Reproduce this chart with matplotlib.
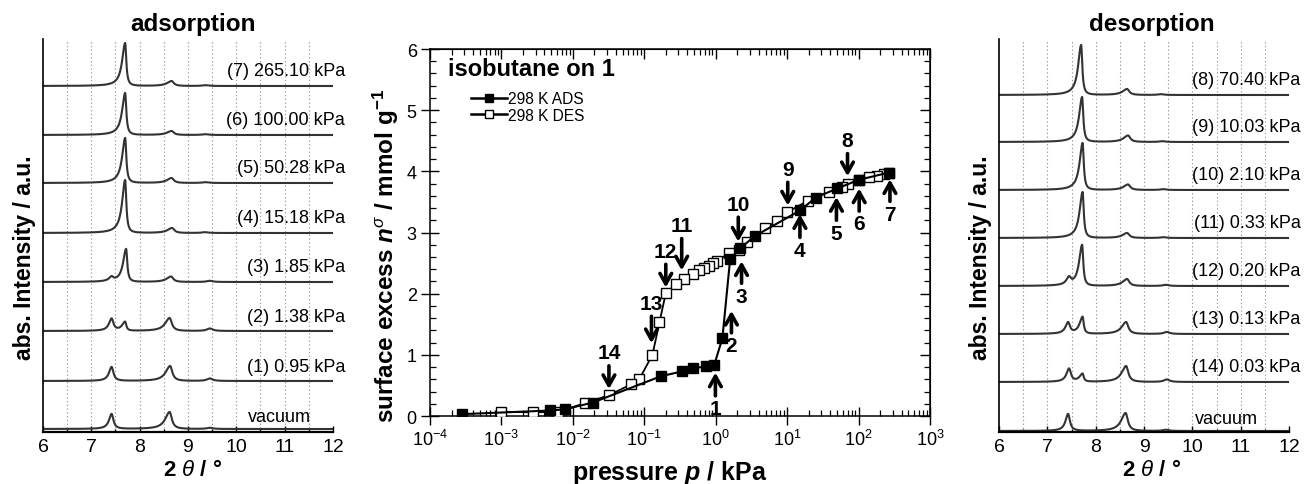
import numpy as np
import matplotlib
matplotlib.use('Agg')
import matplotlib.pyplot as plt
from matplotlib.lines import Line2D
from matplotlib.ticker import LogLocator, MultipleLocator, NullFormatter, LogFormatterSciNotation, NullLocator

plt.rcParams['font.family'] = ['Liberation Sans', 'DejaVu Sans']
plt.rcParams['mathtext.fontset'] = 'custom'
plt.rcParams['mathtext.rm'] = 'Liberation Sans'
plt.rcParams['mathtext.it'] = 'Liberation Sans:italic'
plt.rcParams['mathtext.bf'] = 'Liberation Sans:bold'
plt.rcParams['mathtext.bfit'] = 'Liberation Sans:italic:bold'
plt.rcParams['mathtext.sf'] = 'Liberation Sans'

# ---------------- isotherm data (pressure kPa, surface excess mmol/g) ----------------
ads_p = [0.00028, 0.0048, 0.0078, 0.019, 0.171, 0.34, 0.48, 0.73, 0.95, 1.24, 1.59,
         2.2, 3.5, 15.18, 25.0, 50.28, 100.0, 265.1]
ads_n = [0.03, 0.09, 0.11, 0.22, 0.65, 0.73, 0.78, 0.81, 0.83, 1.27, 2.56,
         2.74, 2.94, 3.36, 3.57, 3.72, 3.86, 3.98]
des_p = [265.1, 228, 179, 138, 100, 70.4, 59.4, 38.9, 19.5, 10.03, 7.3, 4.9, 2.7, 2.1,
         1.55, 1.05, 0.91, 0.80, 0.69, 0.59, 0.48, 0.36, 0.28, 0.20, 0.163, 0.13,
         0.085, 0.066, 0.032, 0.0148, 0.0062, 0.0028, 0.001]
des_n = [3.98, 3.96, 3.93, 3.90, 3.86, 3.80, 3.75, 3.67, 3.52, 3.33, 3.19, 3.07, 2.84, 2.72,
         2.67, 2.53, 2.50, 2.46, 2.42, 2.38, 2.32, 2.24, 2.15, 2.01, 1.53, 1.00,
         0.60, 0.52, 0.34, 0.21, 0.07, 0.06, 0.07]

# arrows marking the PXRD measurement points
arrow_labels = ['1', '2', '3', '4', '5', '6', '7', '8', '9', '10', '11', '12', '13', '14']
arrow_p = [0.99, 1.66, 2.3, 15.1, 49, 102, 275, 70, 10.2, 2.07, 0.334, 0.2, 0.126, 0.032]
arrow_tip = [0.71, 1.72, 2.53, 3.30, 3.58, 3.72, 3.87, 3.92, 3.44, 2.85, 2.38, 2.10, 1.19, 0.44]
arrow_up = [True] * 7 + [False] * 7
arrow_len = [0.38, 0.36, 0.36, 0.38, 0.38, 0.37, 0.36, 0.37, 0.38, 0.40, 0.52, 0.38, 0.44, 0.38]

# ---------------- PXRD data: peak positions (2theta) and heights ----------------
ads_names = ['vacuum', '(1) 0.95 kPa', '(2) 1.38 kPa', '(3) 1.85 kPa', '(4) 15.18 kPa',
             '(5) 50.28 kPa', '(6) 100.00 kPa', '(7) 265.10 kPa']
ads_offset = [3, 51, 101, 150, 199, 249, 297, 346]
ads_peak_pos = [[7.42, 8.62, 9.45], [7.42, 8.63, 9.45], [7.42, 7.70, 8.62, 9.45],
                [7.42, 7.72, 8.65, 9.45], [7.70, 8.67, 9.35], [7.70, 8.66, 9.35],
                [7.70, 8.66, 9.35], [7.70, 8.66, 9.35]]
ads_peak_h = [[15, 17, 1.2], [14, 15, 2.5], [12, 9, 13, 2.5], [4, 33, 5.5, 1.2],
              [53, 5, 0.8], [45, 5, 0.8], [42, 4, 0.8], [43, 5, 0.8]]

des_names = ['vacuum', '(14) 0.03 kPa', '(13) 0.13 kPa', '(12) 0.20 kPa', '(11) 0.33 kPa',
             '(10) 2.10 kPa', '(9) 10.03 kPa', '(8) 70.40 kPa']
des_offset = [1, 50, 98, 146, 194, 242, 290, 337]
des_peak_pos = [[7.43, 8.62, 9.45], [7.45, 7.73, 8.63, 9.47], [7.43, 7.73, 8.63, 9.47],
                [7.45, 7.72, 8.65, 9.45], [7.73, 8.65, 9.4], [7.73, 8.67, 9.4],
                [7.72, 8.67, 9.38], [7.70, 8.65, 9.35]]
des_peak_h = [[17, 18, 1.2], [13, 8, 16, 2.5], [11, 17, 12, 2], [7, 41, 7, 1.2],
              [46, 5, 0.8], [47, 5.5, 0.8], [45, 6.5, 0.8], [50, 6, 0.8]]

two_theta = np.linspace(6, 12, 1501)


def peak_widths(pos):
    if 7.6 < pos < 7.8:
        return 0.075, 0.028
    if 8.5 < pos < 8.8:
        return 0.11, 0.055
    if pos < 7.55:
        return 0.065, 0.045
    return 0.07, 0.07


def pattern(pos_list, h_list):
    y = np.zeros_like(two_theta)
    for p, h in zip(pos_list, h_list):
        wl, wr = peak_widths(p)
        w = np.where(two_theta < p, wl, wr)
        y += h / (1 + ((two_theta - p) / w) ** 2)
    return y


W, H = 1305, 485
fig = plt.figure(figsize=(W / 100, H / 100), dpi=100)


def ax_rect(x0, x1, ytop, ybot):
    return [x0 / W, 1 - ybot / H, (x1 - x0) / W, (ybot - ytop) / H]


def pxrd_panel(rect, names, offsets, pos, hts, title, title_x, ylab_x, lab_x_end, vac_x):
    ax = fig.add_axes(rect)
    ax.set_xlim(6, 12)
    ax.set_ylim(0, 393)
    for gx in [6.5, 7, 7.5, 8, 8.5, 9, 9.5, 10, 10.5, 11, 11.5]:
        ax.axvline(gx, color='#9a9a9a', lw=0.8, ls=(0, (1.2, 2.2)), zorder=0)
    for name, off, pp, hh in zip(names, offsets, pos, hts):
        ax.plot(two_theta, off + pattern(pp, hh), color='#333333', lw=1.5)
        if name == 'vacuum':
            ax.text(vac_x, off + 13, name, ha='center', va='center', fontsize=13)
        else:
            ax.text(lab_x_end, off + 15, name, ha='right', va='center', fontsize=13,
                    clip_on=False)
    for s in ['top', 'right']:
        ax.spines[s].set_visible(False)
    ax.spines['left'].set_linewidth(1.2)
    ax.spines['bottom'].set_linewidth(1.6)
    ax.yaxis.set_major_locator(NullLocator())
    ax.xaxis.set_major_locator(MultipleLocator(1))
    ax.xaxis.set_minor_locator(MultipleLocator(0.5))
    ax.tick_params(axis='x', which='major', direction='in', length=4, width=1,
                   labelsize=14, pad=4)
    ax.tick_params(axis='x', which='minor', direction='in', length=2.5, width=1)
    fig.text(title_x / W, 1 - 25 / H, title, ha='center', va='center',
             fontsize=17.5, fontweight='bold')
    fig.text(title_x / W, 1 - 471 / H, r'2 $\theta$ / °', ha='center', va='center',
             fontsize=16, fontweight='bold')
    fig.text(ylab_x / W, 1 - 258 / H, 'abs. Intensity / a.u.', rotation=90,
             ha='center', va='center', fontsize=16.5, fontweight='bold')
    return ax


pxrd_panel(ax_rect(43, 333, 40, 433), ads_names, ads_offset, ads_peak_pos, ads_peak_h,
           'adsorption', 193, 25, 12.25, 10.9)
pxrd_panel(ax_rect(999, 1289, 40, 433), des_names, des_offset, des_peak_pos, des_peak_h,
           'desorption', 1152, 980, 12.24, 10.71)

# ---------------- middle isotherm ----------------
ax = fig.add_axes(ax_rect(430, 930, 50, 417))
ax.set_xscale('log')
ax.set_xlim(1e-4, 1e3)
ax.set_ylim(0, 6)

ax.plot(des_p, des_n, '-', color='k', lw=1.3, marker='s', ms=6.5, mfc='white', mec='k',
        mew=1.0, zorder=3)
ax.plot(ads_p, ads_n, '-', color='k', lw=1.5, marker='s', ms=6.5, mfc='k', mec='k',
        mew=1.0, zorder=4)

for lab, p, tip, up, ln in zip(arrow_labels, arrow_p, arrow_tip, arrow_up, arrow_len):
    sgn = -1 if up else 1
    tail = tip + sgn * ln
    ax.annotate('', xy=(p, tip), xytext=(p, tail),
                arrowprops=dict(arrowstyle='->,head_length=0.75,head_width=0.42',
                                lw=2.6, color='k', shrinkA=0, shrinkB=0), zorder=5)
    ax.text(p, tail + sgn * 0.21, lab, ha='center', va='center', fontsize=15,
            fontweight='bold', zorder=6)

ax.xaxis.set_major_locator(LogLocator(base=10, numticks=20))
ax.xaxis.set_minor_locator(LogLocator(base=10, subs=np.arange(2, 10), numticks=20))
ax.xaxis.set_major_formatter(LogFormatterSciNotation())
ax.xaxis.set_minor_formatter(NullFormatter())
ax.yaxis.set_major_locator(MultipleLocator(1))
ax.yaxis.set_minor_locator(MultipleLocator(0.2))
ax.tick_params(which='major', direction='inout', length=13, width=1, labelsize=13)
ax.tick_params(which='minor', direction='in', length=4, width=0.9)
ax.tick_params(axis='x', which='major', pad=3)
ax.tick_params(axis='y', which='major', pad=3)
for s in ax.spines.values():
    s.set_linewidth(1.1)

secx = ax.secondary_xaxis('top')
secx.xaxis.set_major_locator(LogLocator(base=10, numticks=20))
secx.xaxis.set_minor_locator(LogLocator(base=10, subs=np.arange(2, 10), numticks=20))
secx.tick_params(which='major', direction='in', length=7, width=1, labeltop=False)
secx.tick_params(which='minor', direction='in', length=4, width=0.9)
secx.xaxis.set_major_formatter(NullFormatter())
secx.xaxis.set_minor_formatter(NullFormatter())
secy = ax.secondary_yaxis('right')
secy.yaxis.set_major_locator(MultipleLocator(1))
secy.yaxis.set_minor_locator(MultipleLocator(0.2))
secy.tick_params(which='major', direction='in', length=7, width=1, labelright=False)
secy.tick_params(which='minor', direction='in', length=4, width=0.9)

ax.text(0.036, 0.93, 'isobutane on 1', transform=ax.transAxes, ha='left', va='baseline',
        fontsize=17, fontweight='bold')
handles = [Line2D([], [], color='k', lw=1.8, marker='s', ms=6, mfc='k', mec='k'),
           Line2D([], [], color='k', lw=1.8, marker='s', ms=6, mfc='white', mec='k')]
ax.legend(handles, ['298 K ADS', '298 K DES'], loc='upper left',
          bbox_to_anchor=(0.082, 0.885), frameon=False, fontsize=11.2, handlelength=2.3,
          handletextpad=0.1, borderpad=0, borderaxespad=0, labelspacing=0.1, numpoints=1)

fig.text(670 / W, 1 - 473 / H, r'pressure $\mathbfit{p}$ / kPa', ha='center', va='center',
         fontsize=18, fontweight='bold')
fig.text(386 / W, 1 - 256 / H, r'surface excess $\mathbfit{n}^{\sigma}$ / mmol g$^{\mathbf{-1}}$',
         rotation=90, ha='center', va='center', fontsize=17.5, fontweight='bold')

fig.savefig('out.png', dpi=100)
